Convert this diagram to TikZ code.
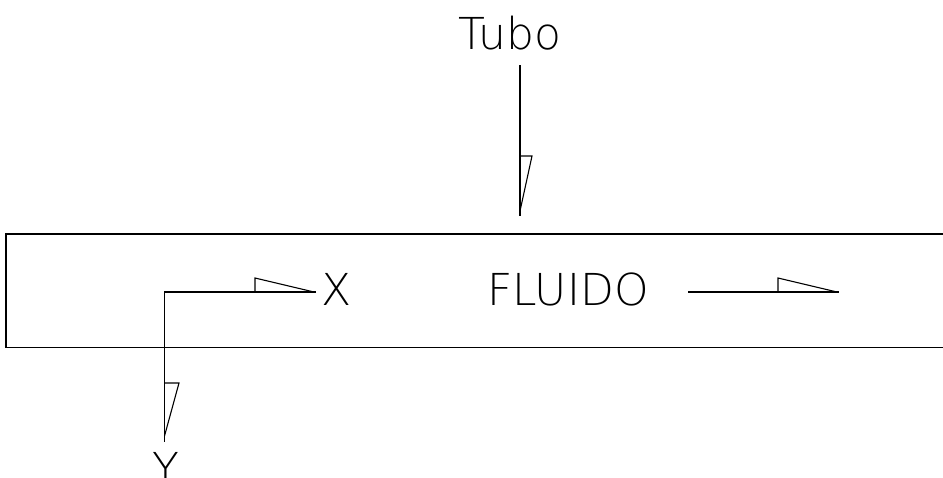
\documentclass[tikz,border=0pt]{standalone}
\usepackage{fontspec}
\newfontfamily\cadfont{DejaVu Sans ExtraLight}
\begin{document}
\begin{tikzpicture}[x=1pt,y=-1pt,
  line width=1.2pt, line join=miter,
  lbl/.style={inner sep=0pt, anchor=base, font=\cadfont\fontsize{44}{44}\selectfont},
  cadhead/.style={line width=1.1pt}]
\useasboundingbox (0,0) rectangle (943,477);

% pipe walls (open on the right)
\draw (950,234) -- (6,234) -- (6,347.5) -- (950,347.5);

% labels
\node[lbl] (tubo) at (510,49) {Tubo};
\node[lbl] (xl) at (337,305) {X};
\node[lbl] (fl) at (568,305) {FLUIDO};
\node[lbl] (yl) at (165.5,484) {Y};

% leader to the pipe
\coordinate (t0) at (520,65);
\coordinate (t1) at (520,216);
\draw (t0) -- (t1);
\draw[cadhead] (520,156) -- (532,156) -- (520,211);

% coordinate axes
\coordinate (o) at (164.5,292);
\coordinate (xe) at (316,292);
\coordinate (ye) at (164.5,442);
\draw (xe) -- (o) -- (ye);
\draw[cadhead] (255,292) -- (255,278) -- (314,292);
\draw[cadhead] (164.5,383) -- (179,383) -- (164.5,436);

% flow direction
\coordinate (f0) at (688,292);
\coordinate (f1) at (839,292);
\draw (f0) -- (f1);
\draw[cadhead] (778,292) -- (778,278) -- (837,292);
\end{tikzpicture}
\end{document}
